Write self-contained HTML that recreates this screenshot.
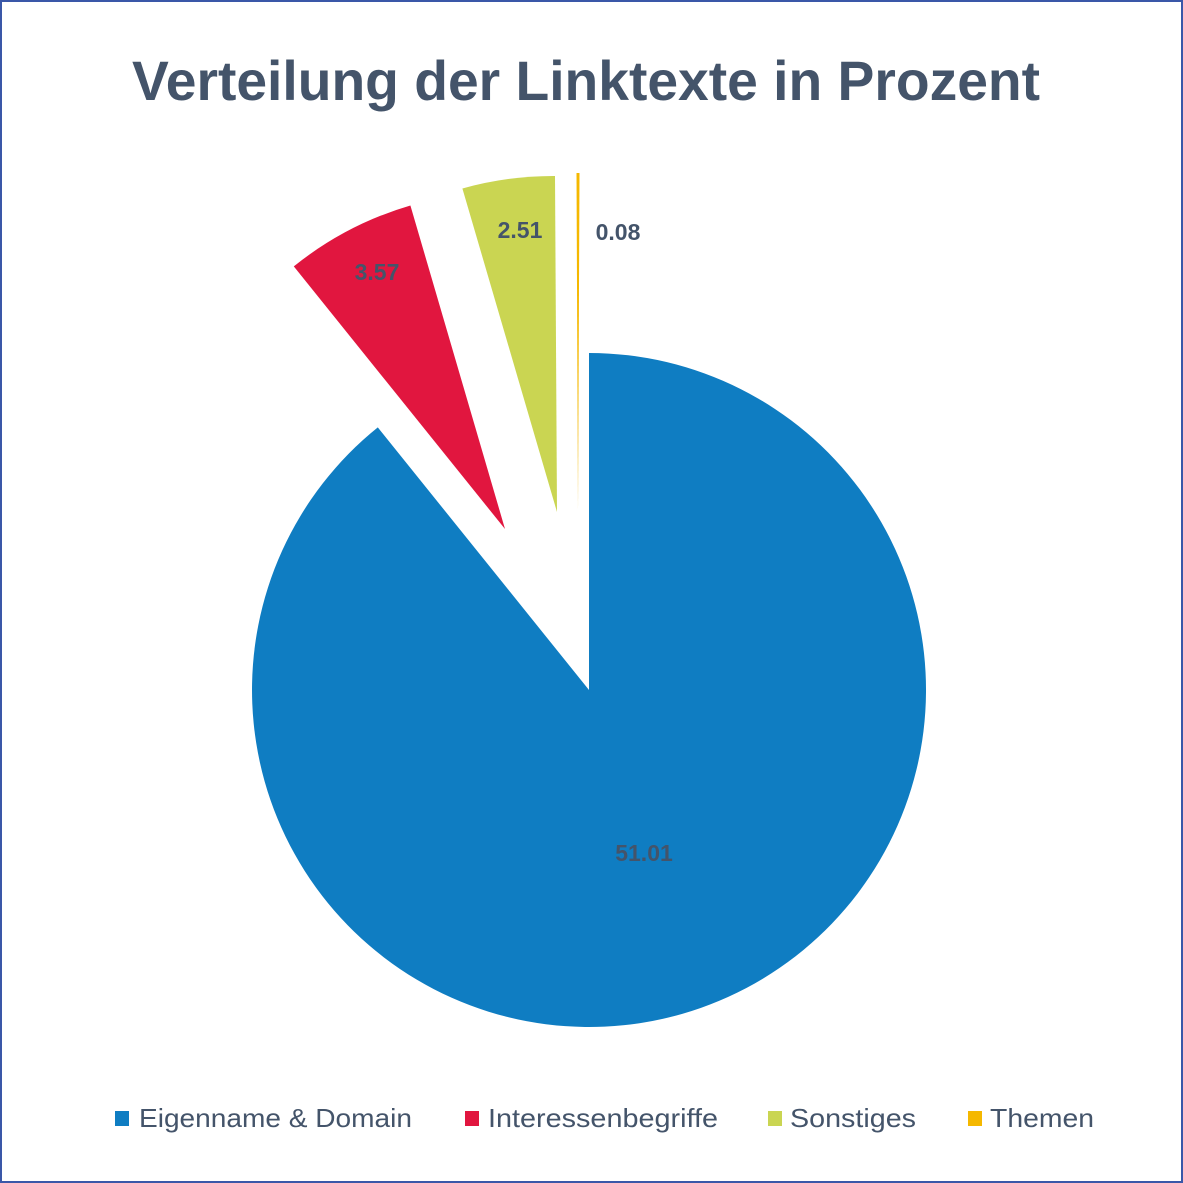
<!DOCTYPE html>
<html><head><meta charset="utf-8"><style>
html,body{margin:0;padding:0;background:#fff}
svg{display:block}
</style></head><body>
<svg width="1183" height="1183" viewBox="0 0 1183 1183" xmlns="http://www.w3.org/2000/svg">
<rect x="1" y="1" width="1181" height="1181" fill="#fff" stroke="#3a57a8" stroke-width="2"/>
<text x="586" y="100" text-anchor="middle" font-family="Liberation Sans, sans-serif" font-weight="bold" font-size="56" fill="#44546a" textLength="908" lengthAdjust="spacingAndGlyphs">Verteilung der Linktexte in Prozent</text>
<path d="M589,690 L589,353 A337,337 0 1 1 377.8,427.4 Z" fill="#0f7dc2"/>
<path d="M505,529 L293.8,266.4 A337,337 0 0 1 410.4,205.5 Z" fill="#e1163f"/>
<path d="M557,512 L462.4,188.5 A337,337 0 0 1 555,176 Z" fill="#cad552"/>
<path d="M578,510 L576.5,173 L579.5,173 Z" fill="#f5b800"/>
<g font-family="Liberation Sans, sans-serif" font-weight="bold" font-size="23" fill="#44546a" text-anchor="middle">
<text x="644" y="861">51.01</text>
<text x="377" y="280">3.57</text>
<text x="520" y="238">2.51</text>
<text x="618" y="240">0.08</text>
</g>
<g font-family="Liberation Sans, sans-serif" font-size="26" fill="#44546a">
<rect x="115" y="1111" width="14" height="15" fill="#0f7dc2"/>
<text x="139" y="1127" textLength="273" lengthAdjust="spacingAndGlyphs">Eigenname &amp; Domain</text>
<rect x="465" y="1111" width="14" height="15" fill="#e1163f"/>
<text x="488" y="1127" textLength="230" lengthAdjust="spacingAndGlyphs">Interessenbegriffe</text>
<rect x="768" y="1111" width="14" height="15" fill="#cad552"/>
<text x="790" y="1127" textLength="126" lengthAdjust="spacingAndGlyphs">Sonstiges</text>
<rect x="968" y="1111" width="14" height="15" fill="#f5b800"/>
<text x="990" y="1127" textLength="104" lengthAdjust="spacingAndGlyphs">Themen</text>
</g>
</svg>
</body></html>
